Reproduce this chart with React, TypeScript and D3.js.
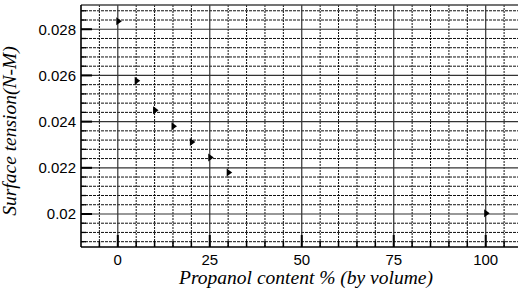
import React from 'react';
import * as d3 from 'd3';

// propanol content (% by volume) and measured surface tension
const propanol = [0, 5, 10, 15, 20, 25, 30, 100];
const tension = [0.02835, 0.02577, 0.02449, 0.0238, 0.02312, 0.02245, 0.0218, 0.02003];

const xTicks = [0, 25, 50, 75, 100];
const yTicks = [0.02, 0.022, 0.024, 0.026, 0.028];
const yTickLabels = ['0.02', '0.022', '0.024', '0.026', '0.028'];

const width = 518;
const height = 293;
const plot = { left: 81, right: 522.5, top: 5, bottom: 247 };

const App = () => {
  const x = d3.scaleLinear().domain([-10, 110]).range([plot.left, plot.right]);
  const y = d3.scaleLinear().domain([0.01857, 0.02905]).range([plot.bottom, plot.top]);

  // minor grid every 5 % and every 0.0004 N/m
  const xMinor = d3.range(-5, 106, 5).filter(v => v % 25 !== 0);
  const yMinor = d3.range(0, 27)
    .map(i => +(0.0188 + i * 0.0004).toFixed(4))
    .filter(v => v < 0.029 && !yTicks.some(t => Math.abs(t - v) < 1e-7));

  const tri = 'M-1.5,-4L4,0L-1.5,4Z';
  const sans = '"Liberation Sans", Arial, sans-serif';
  const serif = '"Liberation Serif", "Times New Roman", serif';

  return (
    <svg width={width} height={height} style={{ position: 'absolute', left: 0, top: 0, background: '#fff' }}>
      {/* minor grid */}
      {xMinor.map(v => (
        <line key={'xm' + v} x1={x(v)} x2={x(v)} y1={plot.top} y2={plot.bottom} stroke="#111" strokeWidth={1} strokeDasharray="2,1" />
      ))}
      {yMinor.map(v => (
        <line key={'ym' + v} x1={plot.left} x2={plot.right} y1={y(v)} y2={y(v)} stroke="#111" strokeWidth={1} strokeDasharray="3,1" />
      ))}
      {/* major grid */}
      {xTicks.map(v => (
        <line key={'xg' + v} x1={x(v)} x2={x(v)} y1={plot.top} y2={plot.bottom} stroke="#333" strokeWidth={1.2} />
      ))}
      {yTicks.map(v => (
        <line key={'yg' + v} x1={plot.left} x2={plot.right} y1={y(v)} y2={y(v)} stroke="#333" strokeWidth={1.2} />
      ))}
      {/* frame */}
      <line x1={plot.left} x2={plot.right} y1={plot.top} y2={plot.top} stroke="#444" strokeWidth={1.5} />
      <line x1={plot.left} x2={plot.left} y1={plot.top} y2={plot.bottom} stroke="#000" strokeWidth={1.6} />
      <line x1={plot.left} x2={plot.right} y1={plot.bottom} y2={plot.bottom} stroke="#000" strokeWidth={1.6} />
      {/* ticks */}
      {xTicks.map(v => (
        <line key={'xt' + v} x1={x(v)} x2={x(v)} y1={plot.bottom} y2={plot.bottom - 12} stroke="#000" strokeWidth={2} />
      ))}
      {xMinor.map(v => (
        <line key={'xmt' + v} x1={x(v)} x2={x(v)} y1={plot.bottom} y2={plot.bottom - 6} stroke="#000" strokeWidth={1.5} />
      ))}
      {yTicks.map(v => (
        <line key={'yt' + v} x1={plot.left} x2={plot.left + 11} y1={y(v)} y2={y(v)} stroke="#000" strokeWidth={2} />
      ))}
      {yMinor.map(v => (
        <line key={'ymt' + v} x1={plot.left} x2={plot.left + 5} y1={y(v)} y2={y(v)} stroke="#000" strokeWidth={1.3} />
      ))}
      {/* tick labels */}
      {xTicks.map(v => (
        <text key={'xl' + v} x={x(v)} y={265} textAnchor="middle" fontFamily={sans} fontSize={15} fill="#000">{v}</text>
      ))}
      {yTicks.map((v, i) => (
        <text key={'yl' + v} x={76} y={y(v) + 5.5} textAnchor="end" fontFamily={sans} fontSize={15} fill="#000">{yTickLabels[i]}</text>
      ))}
      {/* data */}
      {propanol.map((p, i) => (
        <path key={'pt' + i} d={tri} transform={`translate(${x(p)},${y(tension[i])})`} fill="#000" />
      ))}
      {/* axis titles */}
      <text x={306} y={284} textAnchor="middle" fontFamily={serif} fontStyle="italic" fontSize={19.5} fill="#000">
        Propanol content % (by volume)
      </text>
      <text transform="translate(16,131) rotate(-90)" textAnchor="middle" fontFamily={serif} fontStyle="italic" fontSize={19.5} fill="#000">
        Surface tension(N-M)
      </text>
    </svg>
  );
};

export default App;
